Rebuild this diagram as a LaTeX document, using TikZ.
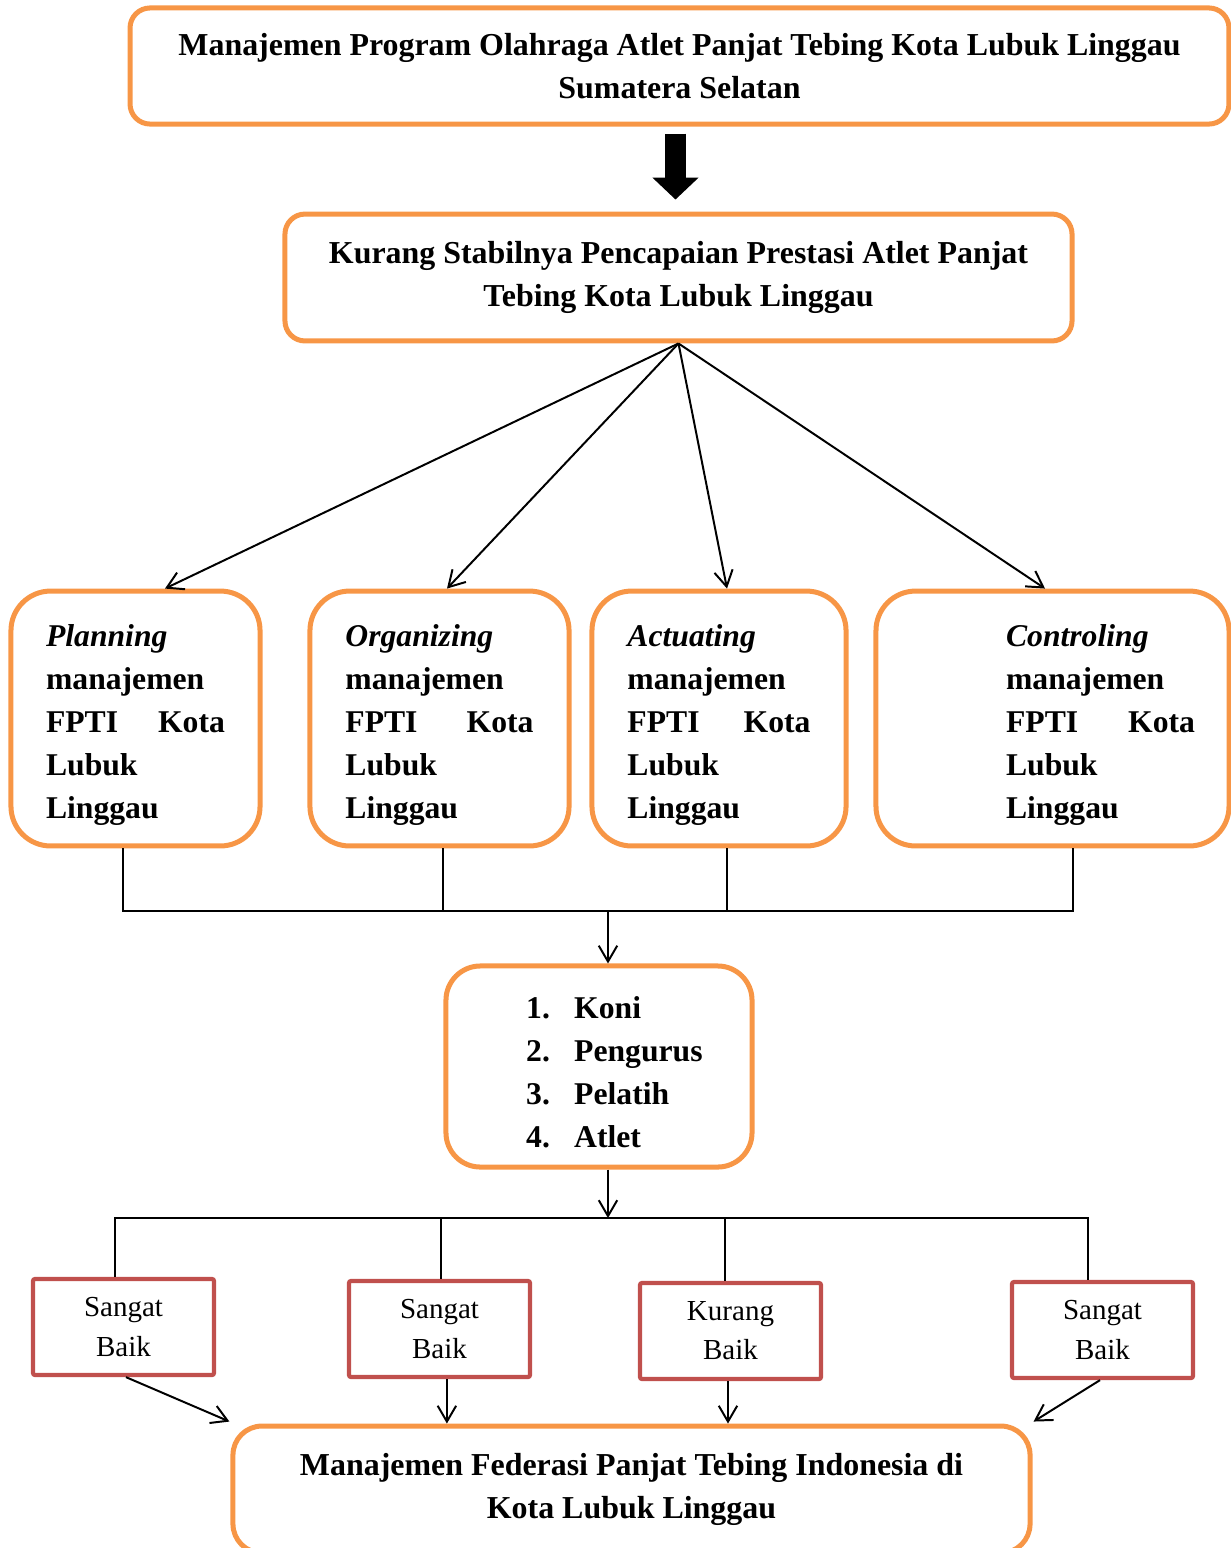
\documentclass[tikz,border=0pt]{standalone}
\usepackage{fontspec}
\setmainfont{Liberation Serif}
\usetikzlibrary{arrows.meta}
\usetikzlibrary{calc}
\definecolor{oranye}{HTML}{F79646}
\definecolor{merah}{HTML}{C0504D}
\newcommand{\isifungsi}[2]{\rule{0pt}{13pt}\hspace*{#2}\textit{#1}\\\hspace*{#2}manajemen\\\hspace*{#2}FPTI\hfill Kota\\\hspace*{#2}Lubuk\\\hspace*{#2}Linggau}

\begin{document}
\begin{tikzpicture}[x=0.379pt,y=-0.379pt,
    kotak/.style={draw=oranye,line width=1.9pt,rounded corners=7.6pt,align=center,font=\fontsize{12.1}{16.3}\selectfont\bfseries},
    fungsi/.style={draw=oranye,line width=1.9pt,rounded corners=15pt,minimum height=96.6pt,align=left,font=\fontsize{12}{16.3}\selectfont\bfseries},
    hasil/.style={draw=merah,line width=1.6pt,rounded corners=0.8pt,minimum width=68.6pt,minimum height=36.4pt,align=center,font=\fontsize{11}{14.8}\selectfont},
    garis/.style={line width=0.75pt},
    panah/.style={line width=0.75pt,-{Straight Barb[length=6pt,width=7pt]}}]
    \clip (0,0) rectangle (1231,1548);
    \node[kotak,minimum width=416.5pt,minimum height=44pt] (judul) at (679.5,66) {Manajemen Program Olahraga Atlet Panjat Tebing Kota Lubuk Linggau\\Sumatera Selatan};
    \node[kotak,minimum width=298.3pt,minimum height=48.1pt] (masalah) at (678.5,277.5) {Kurang Stabilnya Pencapaian Prestasi Atlet Panjat\\Tebing Kota Lubuk Linggau};
    \node[fungsi,minimum width=94.4pt,text width=67.8pt] (plan) at (135.5,718.5) {\isifungsi{Planning}{0pt}};
    \node[fungsi,minimum width=98.2pt,text width=71.3pt] (org) at (439.5,718.5) {\isifungsi{Organizing}{0pt}};
    \node[fungsi,minimum width=96.3pt,text width=69.4pt] (act) at (719,718.5) {\isifungsi{Actuating}{0pt}};
    \node[fungsi,minimum width=133.8pt,text width=108pt] (ctrl) at (1052.5,718.5) {\isifungsi{Controling}{36.4pt}};
    \node[kotak,rounded corners=13pt,minimum width=116pt,minimum height=76.2pt,align=left,font=\fontsize{12}{16.3}\selectfont\bfseries] (pihak) at (599,1066.5) {\rule{0pt}{13pt}\hspace*{11.7pt}\makebox[18.2pt][l]{1.}Koni\\\hspace*{11.7pt}\makebox[18.2pt][l]{2.}Pengurus\\\hspace*{11.7pt}\makebox[18.2pt][l]{3.}Pelatih\\\hspace*{11.7pt}\makebox[18.2pt][l]{4.}Atlet};
    \node[hasil] (r1) at (123.5,1327) {Sangat\\Baik};
    \node[hasil] (r2) at (439.5,1329) {Sangat\\Baik};
    \node[hasil] (r3) at (730.5,1331) {Kurang\\Baik};
    \node[hasil] (r4) at (1102.5,1330) {Sangat\\Baik};
    \node[kotak,rounded corners=11pt,minimum width=302.1pt,minimum height=48.1pt] (akhir) at (631.5,1489.5) {Manajemen Federasi Panjat Tebing Indonesia di\\Kota Lubuk Linggau};
    \draw[line width=8pt,-{Triangle[width=17pt,length=8.3pt]}] ($(judul.south)+(-4,7)$) -- ($(masalah.north)+(-3,-12)$);
    \foreach \n/\dx in {plan/29.5,org/7.5,act/8,ctrl/-7.5}
      \draw[panah] (masalah.south) -- ($(\n.north)+(\dx,0)$);
    \coordinate (gabung) at (608,911);
    \draw[garis] ($(plan.south)+(-12.5,0)$) |- (gabung);
    \draw[garis] ($(org.south)+(3.5,0)$) |- (gabung);
    \draw[garis] ($(act.south)+(8,0)$) |- (gabung);
    \draw[garis] ($(ctrl.south)+(20.5,0)$) |- (gabung);
    \draw[panah] (gabung) -- ($(pihak.north)+(9,0)$);
    \coordinate (cabang) at (608,1218);
    \draw[panah] ($(pihak.south)+(9,0)$) -- (cabang);
    \foreach \n/\dx in {r1/-8.5,r2/1.5,r3/-5.5,r4/-14.5}
      \draw[garis] (cabang) -| ($(\n.north)+(\dx,0)$);
    \draw[panah] ($(r1.south)+(2.5,0)$) -- ($(akhir.north west)+(-1,-2)$);
    \draw[panah] ([xshift=2.8pt]r2.south) -- ([xshift=2.8pt]r2.south |- akhir.north);
    \draw[panah] ([xshift=-0.95pt]r3.south) -- ([xshift=-0.95pt]r3.south |- akhir.north);
    \draw[panah] ($(r4.south)+(-2.5,0)$) -- ($(akhir.north east)+(1,-2)$);
\end{tikzpicture}
\end{document}
